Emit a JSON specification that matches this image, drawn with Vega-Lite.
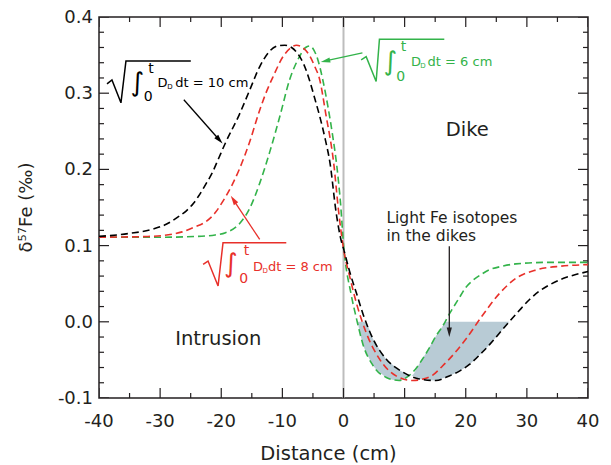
{
  "$schema": "https://vega.github.io/schema/vega-lite/v6.json",
  "width": 489,
  "height": 381,
  "autosize": {"type": "none"},
  "padding": {"left": 99, "top": 17, "right": 23, "bottom": 67},
  "config": {"font": "DejaVu Sans", "view": {"stroke": "#231f20", "strokeWidth": 1.5}, "axis": {"grid": false}},
  "datasets": {
    "curves": [
      {"curve": "10 cm", "x": -40, "y": 0.112}, {"curve": "10 cm", "x": -35, "y": 0.116}, {"curve": "10 cm", "x": -31, "y": 0.122},
      {"curve": "10 cm", "x": -29, "y": 0.128}, {"curve": "10 cm", "x": -27, "y": 0.138}, {"curve": "10 cm", "x": -25.8, "y": 0.145},
      {"curve": "10 cm", "x": -24.5, "y": 0.156}, {"curve": "10 cm", "x": -23.7, "y": 0.165}, {"curve": "10 cm", "x": -22.5, "y": 0.181},
      {"curve": "10 cm", "x": -21.5, "y": 0.195}, {"curve": "10 cm", "x": -20.4, "y": 0.215}, {"curve": "10 cm", "x": -19.3, "y": 0.235},
      {"curve": "10 cm", "x": -17.1, "y": 0.271}, {"curve": "10 cm", "x": -15.4, "y": 0.303}, {"curve": "10 cm", "x": -13.7, "y": 0.335},
      {"curve": "10 cm", "x": -12.1, "y": 0.355}, {"curve": "10 cm", "x": -10.8, "y": 0.362}, {"curve": "10 cm", "x": -9.6, "y": 0.363},
      {"curve": "10 cm", "x": -8.5, "y": 0.36}, {"curve": "10 cm", "x": -7.5, "y": 0.352}, {"curve": "10 cm", "x": -6.5, "y": 0.338},
      {"curve": "10 cm", "x": -5.6, "y": 0.318}, {"curve": "10 cm", "x": -4.7, "y": 0.293}, {"curve": "10 cm", "x": -3.9, "y": 0.27},
      {"curve": "10 cm", "x": -3.0, "y": 0.24}, {"curve": "10 cm", "x": -2.2, "y": 0.208}, {"curve": "10 cm", "x": -1.2, "y": 0.143},
      {"curve": "10 cm", "x": -0.3, "y": 0.104}, {"curve": "10 cm", "x": 0, "y": 0.096}, {"curve": "10 cm", "x": 1.0, "y": 0.066},
      {"curve": "10 cm", "x": 2.1, "y": 0.038}, {"curve": "10 cm", "x": 3.2, "y": 0.01}, {"curve": "10 cm", "x": 4.8, "y": -0.022},
      {"curve": "10 cm", "x": 7.0, "y": -0.049}, {"curve": "10 cm", "x": 9.7, "y": -0.066}, {"curve": "10 cm", "x": 12.4, "y": -0.075},
      {"curve": "10 cm", "x": 15.1, "y": -0.077}, {"curve": "10 cm", "x": 17.3, "y": -0.071}, {"curve": "10 cm", "x": 18.9, "y": -0.065},
      {"curve": "10 cm", "x": 20.6, "y": -0.056}, {"curve": "10 cm", "x": 22.7, "y": -0.04}, {"curve": "10 cm", "x": 24.0, "y": -0.029},
      {"curve": "10 cm", "x": 25.5, "y": -0.015}, {"curve": "10 cm", "x": 27.1, "y": 0.0}, {"curve": "10 cm", "x": 29.0, "y": 0.017},
      {"curve": "10 cm", "x": 30.4, "y": 0.029}, {"curve": "10 cm", "x": 32.0, "y": 0.04}, {"curve": "10 cm", "x": 33.6, "y": 0.048},
      {"curve": "10 cm", "x": 36.0, "y": 0.057}, {"curve": "10 cm", "x": 38.0, "y": 0.062}, {"curve": "10 cm", "x": 40.0, "y": 0.066},

      {"curve": "8 cm", "x": -40, "y": 0.111}, {"curve": "8 cm", "x": -32, "y": 0.112}, {"curve": "8 cm", "x": -28, "y": 0.115},
      {"curve": "8 cm", "x": -26.4, "y": 0.118}, {"curve": "8 cm", "x": -24.5, "y": 0.124}, {"curve": "8 cm", "x": -22.6, "y": 0.131},
      {"curve": "8 cm", "x": -21, "y": 0.143}, {"curve": "8 cm", "x": -19.9, "y": 0.156}, {"curve": "8 cm", "x": -18.2, "y": 0.18},
      {"curve": "8 cm", "x": -17, "y": 0.201}, {"curve": "8 cm", "x": -15.4, "y": 0.235}, {"curve": "8 cm", "x": -13.7, "y": 0.278},
      {"curve": "8 cm", "x": -12.5, "y": 0.304}, {"curve": "8 cm", "x": -11.5, "y": 0.322}, {"curve": "8 cm", "x": -9.9, "y": 0.348},
      {"curve": "8 cm", "x": -8.7, "y": 0.359}, {"curve": "8 cm", "x": -7.7, "y": 0.363}, {"curve": "8 cm", "x": -6.7, "y": 0.36},
      {"curve": "8 cm", "x": -5.6, "y": 0.35}, {"curve": "8 cm", "x": -4.7, "y": 0.335}, {"curve": "8 cm", "x": -3.9, "y": 0.318},
      {"curve": "8 cm", "x": -2.9, "y": 0.273}, {"curve": "8 cm", "x": -1.6, "y": 0.208}, {"curve": "8 cm", "x": -0.8, "y": 0.145},
      {"curve": "8 cm", "x": 0, "y": 0.096}, {"curve": "8 cm", "x": 1.0, "y": 0.06}, {"curve": "8 cm", "x": 2.1, "y": 0.025},
      {"curve": "8 cm", "x": 3.7, "y": -0.014}, {"curve": "8 cm", "x": 5.9, "y": -0.049}, {"curve": "8 cm", "x": 8.6, "y": -0.071},
      {"curve": "8 cm", "x": 11.3, "y": -0.077}, {"curve": "8 cm", "x": 13.5, "y": -0.074}, {"curve": "8 cm", "x": 14.6, "y": -0.07},
      {"curve": "8 cm", "x": 16.2, "y": -0.058}, {"curve": "8 cm", "x": 17.3, "y": -0.049}, {"curve": "8 cm", "x": 20.0, "y": -0.023},
      {"curve": "8 cm", "x": 22.7, "y": 0.008}, {"curve": "8 cm", "x": 25.5, "y": 0.037}, {"curve": "8 cm", "x": 28.2, "y": 0.057},
      {"curve": "8 cm", "x": 31.5, "y": 0.068}, {"curve": "8 cm", "x": 35.5, "y": 0.073}, {"curve": "8 cm", "x": 40, "y": 0.075},

      {"curve": "6 cm", "x": -40, "y": 0.111}, {"curve": "6 cm", "x": -30, "y": 0.111}, {"curve": "6 cm", "x": -24, "y": 0.112},
      {"curve": "6 cm", "x": -21, "y": 0.114}, {"curve": "6 cm", "x": -19.3, "y": 0.117}, {"curve": "6 cm", "x": -17.1, "y": 0.128},
      {"curve": "6 cm", "x": -15.4, "y": 0.148}, {"curve": "6 cm", "x": -13.7, "y": 0.182}, {"curve": "6 cm", "x": -12.1, "y": 0.222},
      {"curve": "6 cm", "x": -10.4, "y": 0.27}, {"curve": "6 cm", "x": -8.8, "y": 0.318}, {"curve": "6 cm", "x": -7.2, "y": 0.348},
      {"curve": "6 cm", "x": -6.2, "y": 0.36}, {"curve": "6 cm", "x": -5.5, "y": 0.362}, {"curve": "6 cm", "x": -4.8, "y": 0.356},
      {"curve": "6 cm", "x": -4.2, "y": 0.344}, {"curve": "6 cm", "x": -3.4, "y": 0.318}, {"curve": "6 cm", "x": -2.56, "y": 0.283},
      {"curve": "6 cm", "x": -1.75, "y": 0.243}, {"curve": "6 cm", "x": -1.03, "y": 0.2}, {"curve": "6 cm", "x": -0.49, "y": 0.156},
      {"curve": "6 cm", "x": 0, "y": 0.102}, {"curve": "6 cm", "x": 1.25, "y": 0.036}, {"curve": "6 cm", "x": 2.1, "y": 0.005},
      {"curve": "6 cm", "x": 3.2, "y": -0.03}, {"curve": "6 cm", "x": 4.8, "y": -0.057}, {"curve": "6 cm", "x": 7.0, "y": -0.073},
      {"curve": "6 cm", "x": 9.1, "y": -0.077}, {"curve": "6 cm", "x": 10.5, "y": -0.072}, {"curve": "6 cm", "x": 11.7, "y": -0.063},
      {"curve": "6 cm", "x": 13.0, "y": -0.048}, {"curve": "6 cm", "x": 14.0, "y": -0.035}, {"curve": "6 cm", "x": 15.1, "y": -0.019},
      {"curve": "6 cm", "x": 16.2, "y": -0.006}, {"curve": "6 cm", "x": 17.3, "y": 0.01}, {"curve": "6 cm", "x": 18.9, "y": 0.031},
      {"curve": "6 cm", "x": 20.0, "y": 0.045}, {"curve": "6 cm", "x": 21.1, "y": 0.054}, {"curve": "6 cm", "x": 22.5, "y": 0.062},
      {"curve": "6 cm", "x": 23.8, "y": 0.068}, {"curve": "6 cm", "x": 26.0, "y": 0.073}, {"curve": "6 cm", "x": 28.2, "y": 0.076},
      {"curve": "6 cm", "x": 33.6, "y": 0.078}, {"curve": "6 cm", "x": 40, "y": 0.078}
    ],
    "band": [
      {"x": 2.3, "lo": 0, "hi": 0}, {"x": 3.2, "lo": -0.03, "hi": 0}, {"x": 3.9, "lo": -0.043, "hi": -0.004},
      {"x": 4.8, "lo": -0.057, "hi": -0.022}, {"x": 5.9, "lo": -0.066, "hi": -0.036}, {"x": 7.0, "lo": -0.073, "hi": -0.049},
      {"x": 8.0, "lo": -0.076, "hi": -0.056}, {"x": 9.1, "lo": -0.077, "hi": -0.063}, {"x": 10.0, "lo": -0.0745, "hi": -0.067},
      {"x": 11.1, "lo": -0.0705, "hi": -0.0705}, {"x": 12.4, "lo": -0.075, "hi": -0.055}, {"x": 13.5, "lo": -0.076, "hi": -0.041},
      {"x": 15.1, "lo": -0.077, "hi": -0.019}, {"x": 16.2, "lo": -0.074, "hi": -0.006}, {"x": 16.7, "lo": -0.073, "hi": 0},
      {"x": 17.3, "lo": -0.071, "hi": 0}, {"x": 18.9, "lo": -0.065, "hi": 0}, {"x": 20.6, "lo": -0.056, "hi": 0},
      {"x": 22.7, "lo": -0.04, "hi": 0}, {"x": 24.0, "lo": -0.029, "hi": 0}, {"x": 25.5, "lo": -0.015, "hi": 0},
      {"x": 27.1, "lo": 0, "hi": 0}
    ],
    "xticks": [
      {"v": -40, "kind": "major"}, {"v": -30, "kind": "major"}, {"v": -20, "kind": "major"}, {"v": -10, "kind": "major"},
      {"v": 0, "kind": "major"}, {"v": 10, "kind": "major"}, {"v": 20, "kind": "major"}, {"v": 30, "kind": "major"}, {"v": 40, "kind": "major"},
      {"v": -35, "kind": "minor"}, {"v": -25, "kind": "minor"}, {"v": -15, "kind": "minor"}, {"v": -5, "kind": "minor"},
      {"v": 5, "kind": "minor"}, {"v": 15, "kind": "minor"}, {"v": 25, "kind": "minor"}, {"v": 35, "kind": "minor"}
    ],
    "yticks": [
      {"v": -0.1, "kind": "major"}, {"v": 0, "kind": "major"}, {"v": 0.1, "kind": "major"}, {"v": 0.2, "kind": "major"},
      {"v": 0.3, "kind": "major"}, {"v": 0.4, "kind": "major"},
      {"v": -0.08, "kind": "minor"}, {"v": -0.06, "kind": "minor"}, {"v": -0.04, "kind": "minor"}, {"v": -0.02, "kind": "minor"},
      {"v": 0.02, "kind": "minor"}, {"v": 0.04, "kind": "minor"}, {"v": 0.06, "kind": "minor"}, {"v": 0.08, "kind": "minor"},
      {"v": 0.12, "kind": "minor"}, {"v": 0.14, "kind": "minor"}, {"v": 0.16, "kind": "minor"}, {"v": 0.18, "kind": "minor"},
      {"v": 0.22, "kind": "minor"}, {"v": 0.24, "kind": "minor"}, {"v": 0.26, "kind": "minor"}, {"v": 0.28, "kind": "minor"},
      {"v": 0.32, "kind": "minor"}, {"v": 0.34, "kind": "minor"}, {"v": 0.36, "kind": "minor"}, {"v": 0.38, "kind": "minor"}
    ],
    "xlabels": [
      {"v": -40, "t": "-40"}, {"v": -30, "t": "-30"}, {"v": -20, "t": "-20"}, {"v": -10, "t": "-10"}, {"v": 0, "t": "0"},
      {"v": 10, "t": "10"}, {"v": 20, "t": "20"}, {"v": 30, "t": "30"}, {"v": 40, "t": "40"}
    ],
    "ylabels": [
      {"v": -0.1, "t": "-0.1"}, {"v": 0, "t": "0.0"}, {"v": 0.1, "t": "0.1"},
      {"v": 0.2, "t": "0.2"}, {"v": 0.3, "t": "0.3"}, {"v": 0.4, "t": "0.4"}
    ],
    "radicals": [
      {"curve": "10 cm", "ord": 1, "x": -38.69, "y": 0.3123}, {"curve": "10 cm", "ord": 2, "x": -37.88, "y": 0.3175},
      {"curve": "10 cm", "ord": 3, "x": -36.41, "y": 0.2874}, {"curve": "10 cm", "ord": 4, "x": -35.59, "y": 0.3424},
      {"curve": "10 cm", "ord": 5, "x": -24.98, "y": 0.3424},
      {"curve": "8 cm", "ord": 1, "x": -22.97, "y": 0.0754}, {"curve": "8 cm", "ord": 2, "x": -22.16, "y": 0.0797},
      {"curve": "8 cm", "ord": 3, "x": -20.52, "y": 0.047}, {"curve": "8 cm", "ord": 4, "x": -19.71, "y": 0.1038},
      {"curve": "8 cm", "ord": 5, "x": -9.36, "y": 0.1038},
      {"curve": "6 cm", "ord": 1, "x": 2.89, "y": 0.3437}, {"curve": "6 cm", "ord": 2, "x": 3.71, "y": 0.348},
      {"curve": "6 cm", "ord": 3, "x": 5.34, "y": 0.3153}, {"curve": "6 cm", "ord": 4, "x": 5.88, "y": 0.3708},
      {"curve": "6 cm", "ord": 5, "x": 16.49, "y": 0.3708}
    ],
    "arrows": [
      {"curve": "10 cm", "x": -26.12, "y": 0.2914, "x2": -20.3, "y2": 0.2386},
      {"curve": "8 cm", "x": -13.71, "y": 0.1081, "x2": -18.01, "y2": 0.1601},
      {"curve": "6 cm", "x": 3.1, "y": 0.3529, "x2": -2.96, "y2": 0.3423},
      {"curve": "note", "x": 17.31, "y": 0.099, "x2": 17.31, "y2": -0.0136}
    ],
    "heads": [
      {"curve": "10 cm", "x": -20.3, "y": 0.2386},
      {"curve": "8 cm", "x": -18.01, "y": 0.1601},
      {"curve": "6 cm", "x": -2.96, "y": 0.3423},
      {"curve": "note", "x": 17.31, "y": -0.0136}
    ],
    "integrals": [
      {"curve": "10 cm", "x": -33.75, "y": 0.3136, "t": "∫"},
      {"curve": "8 cm", "x": -18.45, "y": 0.0754, "t": "∫"},
      {"curve": "6 cm", "x": 7.67, "y": 0.3411, "t": "∫"}
    ],
    "limits": [
      {"curve": "10 cm", "x": -31.5, "y": 0.3319, "t": "t"}, {"curve": "10 cm", "x": -31.95, "y": 0.2953, "t": "0"},
      {"curve": "8 cm", "x": -15.88, "y": 0.0924, "t": "t"}, {"curve": "8 cm", "x": -16.33, "y": 0.0558, "t": "0"},
      {"curve": "6 cm", "x": 9.8, "y": 0.3607, "t": "t"}, {"curve": "6 cm", "x": 9.35, "y": 0.3215, "t": "0"}
    ],
    "labels": [
      {"curve": "10 cm", "x": -30.42, "y": 0.3136, "t": "D"}, {"curve": "10 cm", "x": -27.51, "y": 0.3136, "t": "dt = 10 cm"},
      {"curve": "8 cm", "x": -14.81, "y": 0.0715, "t": "D"}, {"curve": "8 cm", "x": -12.36, "y": 0.0715, "t": "dt = 8 cm"},
      {"curve": "6 cm", "x": 11.05, "y": 0.3411, "t": "D"}, {"curve": "6 cm", "x": 13.76, "y": 0.3411, "t": "dt = 6 cm"}
    ],
    "subs": [
      {"curve": "10 cm", "x": -28.82, "y": 0.3084, "t": "D"},
      {"curve": "8 cm", "x": -13.27, "y": 0.0662, "t": "D"},
      {"curve": "6 cm", "x": 12.57, "y": 0.3359, "t": "D"}
    ],
    "regions": [
      {"x": 20.24, "y": 0.2521, "t": "Dike"},
      {"x": -20.49, "y": -0.0228, "t": "Intrusion"}
    ],
    "note": [
      {"x": 7.02, "y": 0.1356, "t": "Light Fe isotopes"},
      {"x": 7.02, "y": 0.112, "t": "in the dikes"}
    ],
    "xtitle": [{"x": -2.45, "y": -0.1733, "t": "Distance (cm)"}],
    "ytitle": [{"x": -51.76, "y": 0.15, "t": "δ⁵⁷Fe (‰)"}]
  },
  "layer": [
    {
      "data": {"name": "band"},
      "mark": {"type": "area", "color": "#b8cbd5", "interpolate": "monotone"},
      "encoding": {
        "x": {"field": "x", "type": "quantitative", "scale": {"domain": [-40, 40], "nice": false, "zero": false}, "axis": null},
        "y": {"field": "lo", "type": "quantitative", "scale": {"domain": [-0.1, 0.4], "nice": false, "zero": false}, "axis": null},
        "y2": {"field": "hi"}
      }
    },
    {
      "data": {"values": [{"x": 0}]},
      "mark": {"type": "rule", "color": "#bdbdbd", "strokeWidth": 2},
      "encoding": {"x": {"field": "x", "type": "quantitative", "axis": null}}
    },
    {
      "data": {"name": "xticks"},
      "transform": [{"filter": "datum.kind === 'major'"}],
      "mark": {"type": "tick", "orient": "vertical", "size": 20, "thickness": 1.2, "color": "#231f20", "clip": true, "opacity": 1},
      "encoding": {"x": {"field": "v", "type": "quantitative", "axis": null}, "y": {"datum": -0.1, "type": "quantitative", "axis": null}}
    },
    {
      "data": {"name": "xticks"},
      "transform": [{"filter": "datum.kind === 'major'"}],
      "mark": {"type": "tick", "orient": "vertical", "size": 20, "thickness": 1.2, "color": "#231f20", "clip": true, "opacity": 1},
      "encoding": {"x": {"field": "v", "type": "quantitative", "axis": null}, "y": {"datum": 0.4, "type": "quantitative", "axis": null}}
    },
    {
      "data": {"name": "xticks"},
      "transform": [{"filter": "datum.kind === 'minor'"}],
      "mark": {"type": "tick", "orient": "vertical", "size": 10, "thickness": 1.2, "color": "#231f20", "clip": true, "opacity": 1},
      "encoding": {"x": {"field": "v", "type": "quantitative", "axis": null}, "y": {"datum": -0.1, "type": "quantitative", "axis": null}}
    },
    {
      "data": {"name": "xticks"},
      "transform": [{"filter": "datum.kind === 'minor'"}],
      "mark": {"type": "tick", "orient": "vertical", "size": 10, "thickness": 1.2, "color": "#231f20", "clip": true, "opacity": 1},
      "encoding": {"x": {"field": "v", "type": "quantitative", "axis": null}, "y": {"datum": 0.4, "type": "quantitative", "axis": null}}
    },
    {
      "data": {"name": "yticks"},
      "transform": [{"filter": "datum.kind === 'major'"}],
      "mark": {"type": "tick", "orient": "horizontal", "size": 20, "thickness": 1.2, "color": "#231f20", "clip": true, "opacity": 1},
      "encoding": {"y": {"field": "v", "type": "quantitative", "axis": null}, "x": {"datum": -40, "type": "quantitative", "axis": null}}
    },
    {
      "data": {"name": "yticks"},
      "transform": [{"filter": "datum.kind === 'major'"}],
      "mark": {"type": "tick", "orient": "horizontal", "size": 20, "thickness": 1.2, "color": "#231f20", "clip": true, "opacity": 1},
      "encoding": {"y": {"field": "v", "type": "quantitative", "axis": null}, "x": {"datum": 40, "type": "quantitative", "axis": null}}
    },
    {
      "data": {"name": "yticks"},
      "transform": [{"filter": "datum.kind === 'minor'"}],
      "mark": {"type": "tick", "orient": "horizontal", "size": 10, "thickness": 1.2, "color": "#231f20", "clip": true, "opacity": 1},
      "encoding": {"y": {"field": "v", "type": "quantitative", "axis": null}, "x": {"datum": -40, "type": "quantitative", "axis": null}}
    },
    {
      "data": {"name": "yticks"},
      "transform": [{"filter": "datum.kind === 'minor'"}],
      "mark": {"type": "tick", "orient": "horizontal", "size": 10, "thickness": 1.2, "color": "#231f20", "clip": true, "opacity": 1},
      "encoding": {"y": {"field": "v", "type": "quantitative", "axis": null}, "x": {"datum": 40, "type": "quantitative", "axis": null}}
    },
    {
      "data": {"name": "xlabels"},
      "mark": {"type": "text", "fontSize": 18, "align": "center", "baseline": "middle", "dy": 24, "color": "#231f20"},
      "encoding": {"x": {"field": "v", "type": "quantitative", "axis": null}, "y": {"datum": -0.1, "type": "quantitative", "axis": null}, "text": {"field": "t"}}
    },
    {
      "data": {"name": "ylabels"},
      "mark": {"type": "text", "fontSize": 18, "align": "right", "baseline": "middle", "dx": -6, "dy": 1, "color": "#231f20"},
      "encoding": {"y": {"field": "v", "type": "quantitative", "axis": null}, "x": {"datum": -40, "type": "quantitative", "axis": null}, "text": {"field": "t"}}
    },
    {
      "data": {"name": "curves"},
      "transform": [{"filter": "datum.curve === '6 cm'"}],
      "mark": {"type": "line", "strokeDash": [7, 4], "strokeWidth": 1.6, "interpolate": "monotone"},
      "encoding": {
        "x": {"field": "x", "type": "quantitative", "axis": null},
        "y": {"field": "y", "type": "quantitative", "axis": null},
        "color": {"field": "curve", "type": "nominal", "scale": {"domain": ["10 cm", "8 cm", "6 cm", "note"], "range": ["#000000", "#e8302a", "#33b34a", "#231f20"]}, "legend": null}
      }
    },
    {
      "data": {"name": "curves"},
      "transform": [{"filter": "datum.curve === '8 cm'"}],
      "mark": {"type": "line", "strokeDash": [7, 4], "strokeWidth": 1.6, "interpolate": "monotone"},
      "encoding": {
        "x": {"field": "x", "type": "quantitative", "axis": null},
        "y": {"field": "y", "type": "quantitative", "axis": null},
        "color": {"field": "curve", "type": "nominal", "scale": {"domain": ["10 cm", "8 cm", "6 cm", "note"], "range": ["#000000", "#e8302a", "#33b34a", "#231f20"]}, "legend": null}
      }
    },
    {
      "data": {"name": "curves"},
      "transform": [{"filter": "datum.curve === '10 cm'"}],
      "mark": {"type": "line", "strokeDash": [7, 4], "strokeWidth": 1.6, "interpolate": "monotone"},
      "encoding": {
        "x": {"field": "x", "type": "quantitative", "axis": null},
        "y": {"field": "y", "type": "quantitative", "axis": null},
        "color": {"field": "curve", "type": "nominal", "scale": {"domain": ["10 cm", "8 cm", "6 cm", "note"], "range": ["#000000", "#e8302a", "#33b34a", "#231f20"]}, "legend": null}
      }
    },
    {
      "data": {"name": "radicals"},
      "mark": {"type": "line", "strokeWidth": 1.5},
      "encoding": {
        "x": {"field": "x", "type": "quantitative", "axis": null},
        "y": {"field": "y", "type": "quantitative", "axis": null},
        "order": {"field": "ord", "type": "quantitative"},
        "color": {"field": "curve", "type": "nominal", "scale": {"domain": ["10 cm", "8 cm", "6 cm", "note"], "range": ["#000000", "#e8302a", "#33b34a", "#231f20"]}, "legend": null}
      }
    },
    {
      "data": {"name": "arrows"},
      "mark": {"type": "rule", "strokeWidth": 1.3},
      "encoding": {
        "x": {"field": "x", "type": "quantitative", "axis": null},
        "y": {"field": "y", "type": "quantitative", "axis": null},
        "x2": {"field": "x2"},
        "y2": {"field": "y2"},
        "color": {"field": "curve", "type": "nominal", "scale": {"domain": ["10 cm", "8 cm", "6 cm", "note"], "range": ["#000000", "#e8302a", "#33b34a", "#231f20"]}, "legend": null}
      }
    },
    {
      "data": {"name": "heads"},
      "transform": [{"filter": "datum.curve === '10 cm'"}],
      "mark": {"type": "point", "shape": "M0,-1L0.55,1L-0.55,1Z", "size": 90, "filled": true, "opacity": 1, "angle": 138.5},
      "encoding": {
        "x": {"field": "x", "type": "quantitative", "axis": null},
        "y": {"field": "y", "type": "quantitative", "axis": null},
        "color": {"field": "curve", "type": "nominal", "scale": {"domain": ["10 cm", "8 cm", "6 cm", "note"], "range": ["#000000", "#e8302a", "#33b34a", "#231f20"]}, "legend": null}
      }
    },
    {
      "data": {"name": "heads"},
      "transform": [{"filter": "datum.curve === '8 cm'"}],
      "mark": {"type": "point", "shape": "M0,-1L0.55,1L-0.55,1Z", "size": 90, "filled": true, "opacity": 1, "angle": -33.5},
      "encoding": {
        "x": {"field": "x", "type": "quantitative", "axis": null},
        "y": {"field": "y", "type": "quantitative", "axis": null},
        "color": {"field": "curve", "type": "nominal", "scale": {"domain": ["10 cm", "8 cm", "6 cm", "note"], "range": ["#000000", "#e8302a", "#33b34a", "#231f20"]}, "legend": null}
      }
    },
    {
      "data": {"name": "heads"},
      "transform": [{"filter": "datum.curve === '6 cm'"}],
      "mark": {"type": "point", "shape": "M0,-1L0.55,1L-0.55,1Z", "size": 90, "filled": true, "opacity": 1, "angle": -102.4},
      "encoding": {
        "x": {"field": "x", "type": "quantitative", "axis": null},
        "y": {"field": "y", "type": "quantitative", "axis": null},
        "color": {"field": "curve", "type": "nominal", "scale": {"domain": ["10 cm", "8 cm", "6 cm", "note"], "range": ["#000000", "#e8302a", "#33b34a", "#231f20"]}, "legend": null}
      }
    },
    {
      "data": {"name": "heads"},
      "transform": [{"filter": "datum.curve === 'note'"}],
      "mark": {"type": "point", "shape": "M0,-1L0.55,1L-0.55,1Z", "size": 90, "filled": true, "opacity": 1, "angle": 180},
      "encoding": {
        "x": {"field": "x", "type": "quantitative", "axis": null},
        "y": {"field": "y", "type": "quantitative", "axis": null},
        "color": {"field": "curve", "type": "nominal", "scale": {"domain": ["10 cm", "8 cm", "6 cm", "note"], "range": ["#000000", "#e8302a", "#33b34a", "#231f20"]}, "legend": null}
      }
    },
    {
      "data": {"name": "integrals"},
      "mark": {"type": "text", "fontSize": 26, "align": "center", "baseline": "middle"},
      "encoding": {
        "x": {"field": "x", "type": "quantitative", "axis": null},
        "y": {"field": "y", "type": "quantitative", "axis": null},
        "text": {"field": "t"},
        "color": {"field": "curve", "type": "nominal", "scale": {"domain": ["10 cm", "8 cm", "6 cm", "note"], "range": ["#000000", "#e8302a", "#33b34a", "#231f20"]}, "legend": null}
      }
    },
    {
      "data": {"name": "limits"},
      "mark": {"type": "text", "fontSize": 14, "align": "center", "baseline": "middle"},
      "encoding": {
        "x": {"field": "x", "type": "quantitative", "axis": null},
        "y": {"field": "y", "type": "quantitative", "axis": null},
        "text": {"field": "t"},
        "color": {"field": "curve", "type": "nominal", "scale": {"domain": ["10 cm", "8 cm", "6 cm", "note"], "range": ["#000000", "#e8302a", "#33b34a", "#231f20"]}, "legend": null}
      }
    },
    {
      "data": {"name": "labels"},
      "mark": {"type": "text", "fontSize": 13, "align": "left", "baseline": "middle"},
      "encoding": {
        "x": {"field": "x", "type": "quantitative", "axis": null},
        "y": {"field": "y", "type": "quantitative", "axis": null},
        "text": {"field": "t"},
        "color": {"field": "curve", "type": "nominal", "scale": {"domain": ["10 cm", "8 cm", "6 cm", "note"], "range": ["#000000", "#e8302a", "#33b34a", "#231f20"]}, "legend": null}
      }
    },
    {
      "data": {"name": "subs"},
      "mark": {"type": "text", "fontSize": 7, "align": "left", "baseline": "middle"},
      "encoding": {
        "x": {"field": "x", "type": "quantitative", "axis": null},
        "y": {"field": "y", "type": "quantitative", "axis": null},
        "text": {"field": "t"},
        "color": {"field": "curve", "type": "nominal", "scale": {"domain": ["10 cm", "8 cm", "6 cm", "note"], "range": ["#000000", "#e8302a", "#33b34a", "#231f20"]}, "legend": null}
      }
    },
    {
      "data": {"name": "regions"},
      "mark": {"type": "text", "fontSize": 19.5, "align": "center", "baseline": "middle", "color": "#231f20"},
      "encoding": {
        "x": {"field": "x", "type": "quantitative", "axis": null},
        "y": {"field": "y", "type": "quantitative", "axis": null},
        "text": {"field": "t"}
      }
    },
    {
      "data": {"name": "note"},
      "mark": {"type": "text", "fontSize": 15.5, "align": "left", "baseline": "middle", "color": "#231f20"},
      "encoding": {
        "x": {"field": "x", "type": "quantitative", "axis": null},
        "y": {"field": "y", "type": "quantitative", "axis": null},
        "text": {"field": "t"}
      }
    },
    {
      "data": {"name": "xtitle"},
      "mark": {"type": "text", "fontSize": 19.5, "align": "center", "baseline": "middle", "color": "#231f20"},
      "encoding": {
        "x": {"field": "x", "type": "quantitative", "axis": null},
        "y": {"field": "y", "type": "quantitative", "axis": null},
        "text": {"field": "t"}
      }
    },
    {
      "data": {"name": "ytitle"},
      "mark": {"type": "text", "fontSize": 18, "align": "center", "baseline": "middle", "angle": 270, "color": "#231f20"},
      "encoding": {
        "x": {"field": "x", "type": "quantitative", "axis": null},
        "y": {"field": "y", "type": "quantitative", "axis": null},
        "text": {"field": "t"}
      }
    }
  ]
}
